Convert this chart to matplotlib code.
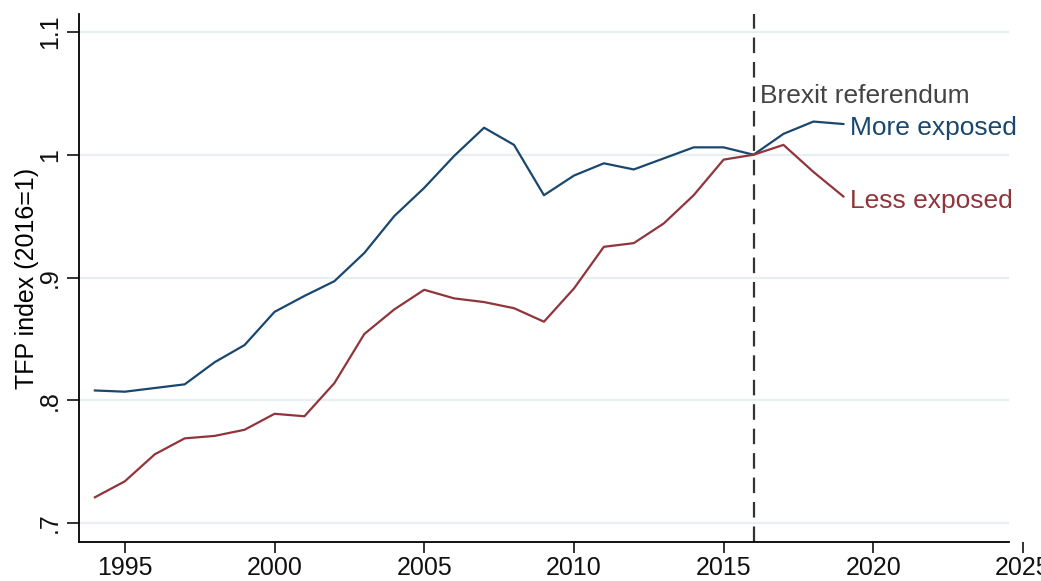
import numpy as np
import matplotlib
matplotlib.use('Agg')
import matplotlib.pyplot as plt

plt.rcParams['font.family'] = ['Liberation Sans', 'DejaVu Sans']

years = list(range(1994, 2020))
more_exposed = [0.808, 0.807, 0.810, 0.813, 0.831, 0.845, 0.872, 0.885, 0.897, 0.920,
                0.950, 0.973, 0.999, 1.022, 1.008, 0.967, 0.983, 0.993, 0.988, 0.997,
                1.006, 1.006, 1.000, 1.017, 1.027, 1.025]
less_exposed = [0.721, 0.734, 0.756, 0.769, 0.771, 0.776, 0.789, 0.787, 0.814, 0.854,
                0.874, 0.890, 0.883, 0.880, 0.875, 0.864, 0.891, 0.925, 0.928, 0.944,
                0.967, 0.996, 1.000, 1.008, 0.986, 0.966]
yticks = [0.7, 0.8, 0.9, 1.0, 1.1]
ytick_labels = ['.7', '.8', '.9', '1', '1.1']
xticks = [1995, 2000, 2005, 2010, 2015, 2020, 2025]
referendum_year = 2016

blue = '#1a476f'
red = '#90353b'

fig = plt.figure(figsize=(10.41, 5.81), dpi=100)
ax = fig.add_axes([79/1041, 39/581, (1023-79)/1041, (542-14)/581])

xmin, xend, xmax = 1993.47, 2024.53, 2025.0
ax.set_xlim(xmin, xmax)
ax.set_ylim(0.6846, 1.1146)

# gridlines stop at the end of the plot region
ax.hlines(yticks, xmin, xend, colors='#e8eff3', linewidth=1.6, zorder=0)

ax.plot(years, more_exposed, color=blue, linewidth=1.6, zorder=3)
ax.plot(years, less_exposed, color=red, linewidth=1.6, zorder=3)
ax.axvline(referendum_year, color='#333333', linewidth=1.6, dashes=(7, 4), zorder=2)

ax.text(2016.2, 1.042, 'Brexit referendum', color='#444444', fontsize=19,
        ha='left', va='baseline')
ax.text(2019.22, 1.0163, 'More exposed', color=blue, fontsize=19, ha='left', va='baseline')
ax.text(2019.22, 0.9567, 'Less exposed', color=red, fontsize=19, ha='left', va='baseline')

for s in ['top', 'right']:
    ax.spines[s].set_visible(False)
ax.spines['bottom'].set_bounds(xmin, xend)
ax.spines['left'].set_linewidth(1.3)
ax.spines['bottom'].set_linewidth(1.3)

ax.set_yticks(yticks)
ax.set_yticklabels(ytick_labels, rotation=90, va='center')
ax.set_xticks(xticks)
ax.set_xticklabels([str(x) for x in xticks])
ax.tick_params(axis='both', width=1.2, labelsize=18, colors='#111111')
ax.tick_params(axis='x', length=7.6, pad=2.5)
ax.tick_params(axis='y', length=8.6, pad=3.5)

ax.set_ylabel('TFP index (2016=1)', fontsize=18)
ax.yaxis.set_label_coords(-0.042, 0.5)

fig.savefig('out.png', dpi=100)
